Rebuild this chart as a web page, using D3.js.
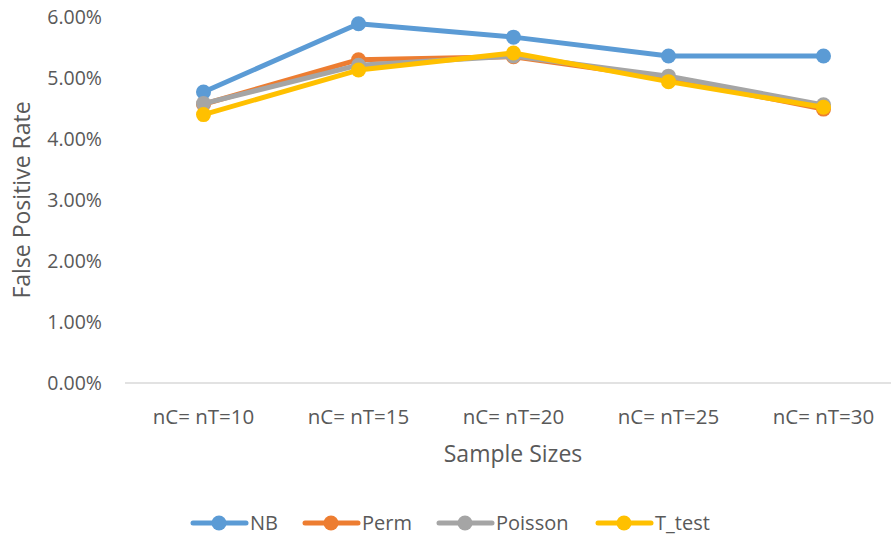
<!DOCTYPE html>
<html><head><meta charset="utf-8">
<script src="https://cdn.jsdelivr.net/npm/d3@7"></script>
<style>body{margin:0;background:#fff}svg{display:block}text{font-family:"Open Sans",Lato,sans-serif;fill:#595959}</style>
</head><body><svg id="c" width="891" height="540"></svg>
<script>
const categories = ["nC= nT=10","nC= nT=15","nC= nT=20","nC= nT=25","nC= nT=30"];
const seriesNames = ["NB","Perm","Poisson","T_test"];
const NB = [0.0477,0.0589,0.0567,0.0536,0.0536];
const Perm = [0.0457,0.0530,0.0535,0.0499,0.0449];
const Poisson = [0.0458,0.0521,0.0536,0.0503,0.0456];
const T_test = [0.0440,0.0513,0.0541,0.0494,0.0452];
const yTicks = [0,0.01,0.02,0.03,0.04,0.05,0.06];
const colors = ["#5B9BD5","#ED7D31","#A5A5A5","#FFC000"];
const series = [NB,Perm,Poisson,T_test];

const svg = d3.select("#c");
const x = d3.scaleBand().domain(categories).range([126,901]);
const y = d3.scaleLinear().domain([0,0.06]).range([383,17]);

// y tick labels
svg.append("g").selectAll("text").data(yTicks).join("text")
  .attr("x",102).attr("y",d=>y(d)).attr("dy","0.35em").attr("text-anchor","end")
  .style("font-size","19.5px").text(d3.format(".2%"));
// x axis line
svg.append("line").attr("x1",125).attr("x2",891).attr("y1",y(0)).attr("y2",y(0))
  .attr("stroke","#d9d9d9").attr("stroke-width",1.3);
// category labels
svg.append("g").selectAll("text").data(categories).join("text")
  .attr("x",d=>x(d)+x.bandwidth()/2).attr("y",417).attr("dy","0.35em").attr("text-anchor","middle")
  .style("font-size","20.5px").text(d=>d);
// axis titles
svg.append("text").attr("x",513).attr("y",454).attr("dy","0.35em").attr("text-anchor","middle")
  .style("font-size","23px").text("Sample Sizes");
svg.append("text").attr("transform","translate(22,200) rotate(-90)").attr("dy","0.35em")
  .attr("text-anchor","middle").style("font-size","23px").text("False Positive Rate");

const line = d3.line().x((d,i)=>x(categories[i])+x.bandwidth()/2).y(d=>y(d));
series.forEach((s,k)=>{
  const g = svg.append("g");
  g.append("path").attr("d",line(s)).attr("fill","none").attr("stroke",colors[k])
    .attr("stroke-width",5).attr("stroke-linejoin","round").attr("stroke-linecap","round");
  g.selectAll("circle").data(s).join("circle")
    .attr("cx",(d,i)=>x(categories[i])+x.bandwidth()/2).attr("cy",d=>y(d)).attr("r",7.5)
    .attr("fill",colors[k]);
});

// legend
const legX = [192,304,438,597];
const lg = svg.append("g");
seriesNames.forEach((n,k)=>{
  const g = lg.append("g").attr("transform",`translate(${legX[k]},523)`);
  g.append("line").attr("x1",1).attr("x2",54).attr("stroke",colors[k]).attr("stroke-width",5).attr("stroke-linecap","round");
  g.append("circle").attr("cx",27).attr("r",7.5).attr("fill",colors[k]);
  g.append("text").attr("x",58).attr("dy","0.35em").style("font-size","20px").text(n);
});
</script></body></html>
